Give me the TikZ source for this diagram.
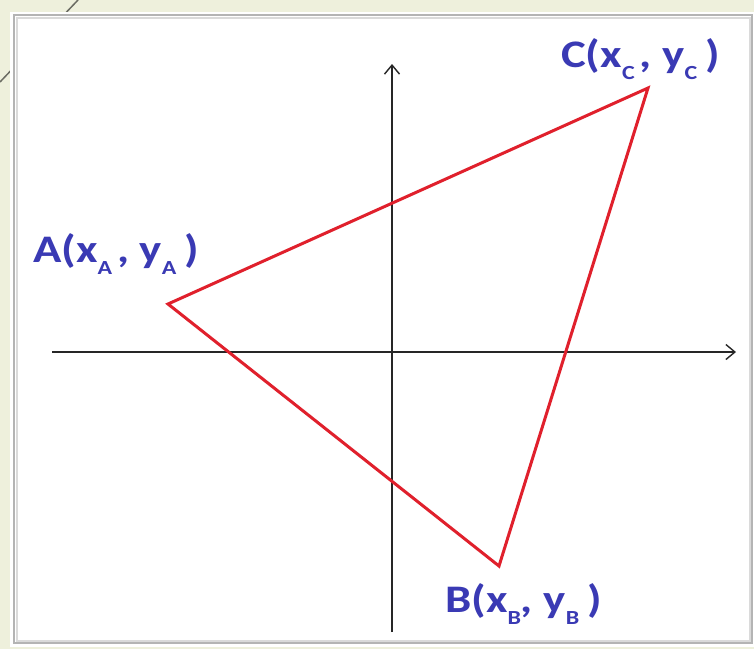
\documentclass[tikz,border=0pt]{standalone}
\usepackage{fontspec}
\setmainfont{Carlito}
\newfontfamily\lblfont{Carlito}[FakeStretch=1.2]
\usetikzlibrary{arrows.meta}
\definecolor{bgbeige}{HTML}{EEF0DC}
\definecolor{lblblue}{HTML}{3A3AB4}
\definecolor{trired}{HTML}{E0202C}
\definecolor{framegray}{HTML}{B4B4B4}
\newcommand{\sbs}[1]{\raisebox{-12pt}{\fontsize{20}{20}\selectfont #1}}
\tikzset{
  axis/.style={draw=black!85, line width=1.4pt, -{Straight Barb[length=9pt,width=15pt,line width=1.4pt]}},
  tri/.style={draw=trired, line width=3pt, line join=miter},
  lbl/.style={anchor=base west, inner sep=0pt, text=lblblue, font=\lblfont\fontsize{39}{40}\selectfont\bfseries},
}
\begin{document}
\begin{tikzpicture}[x=1pt,y=-1pt]
  \fill[bgbeige] (0,0) rectangle (754,649);
  \useasboundingbox (0,0) rectangle (754,649);
  \draw[black!55!bgbeige, line width=1.5pt] (0,82) -- (78,0);
  \fill[white] (10,12) rectangle (754,647);
  \draw[framegray!50, line width=2pt] (17,18) rectangle (750,641);
  \draw[framegray, line width=2pt] (14,15) rectangle (752,643);
  \coordinate (xs) at (52,352);
  \coordinate (xe) at (736,352);
  \coordinate (ys) at (392,632);
  \coordinate (ye) at (392,64);
  \draw[axis] (xs) -- (xe);
  \draw[axis] (ys) -- (ye);
  \coordinate (A) at (168,304);
  \coordinate (B) at (499,566);
  \coordinate (C) at (648,88);
  \draw[tri] (A) -- (C) -- (B) -- cycle;
  \node[lbl] (lA) at (33,262) {A(x\sbs{A}\hspace{5pt}, y\sbs{A}\hspace{8pt})};
  \node[lbl] (lB) at (445,612) {B(x\sbs{B}, y\sbs{B}\hspace{8pt})};
  \node[lbl] (lC) at (561,67) {C(x\sbs{C}\hspace{5pt}, y\sbs{C}\hspace{8pt})};
\end{tikzpicture}
\end{document}
